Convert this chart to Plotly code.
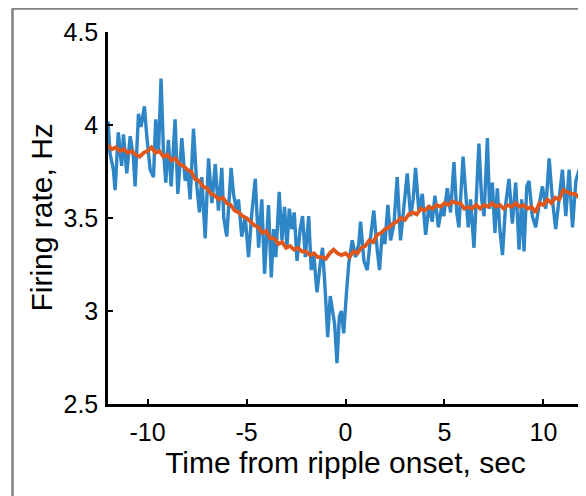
import plotly.graph_objects as go

# Raw (noisy) firing rate trace
t_raw = [-12.0, -11.9, -11.73, -11.64, -11.48, -11.31, -11.22, -11.05, -10.88, -10.72,
         -10.63, -10.46, -10.33, -10.16, -10.04, -9.87, -9.70, -9.59, -9.45, -9.32,
         -9.20, -9.08, -8.95, -8.81, -8.61, -8.47, -8.27, -8.10, -7.97, -7.85,
         -7.68, -7.51, -7.38, -7.26, -7.09, -6.92, -6.75, -6.58, -6.42, -6.25,
         -6.15, -6.0, -5.85, -5.78, -5.66, -5.49, -5.41, -5.24, -5.07, -4.90,
         -4.73, -4.56, -4.39, -4.23, -4.09, -3.97, -3.89, -3.75, -3.63, -3.52,
         -3.35, -3.21, -3.08, -2.96, -2.84, -2.71, -2.59, -2.45, -2.29, -2.17,
         -2.03, -1.86, -1.73, -1.61, -1.44, -1.27, -1.16, -1.02, -0.90, -0.77,
         -0.65, -0.55, -0.43, -0.31, -0.21, -0.09, 0.05, 0.17, 0.34, 0.51,
         0.67, 0.76, 0.93, 1.10, 1.26, 1.43, 1.60, 1.72, 1.86, 1.99,
         2.14, 2.28, 2.45, 2.61, 2.78, 2.95, 3.12, 3.29, 3.42, 3.54,
         3.71, 3.88, 4.05, 4.22, 4.38, 4.52, 4.69, 4.86, 4.97, 5.14,
         5.31, 5.48, 5.62, 5.73, 5.94, 6.2, 6.32, 6.49, 6.61, 6.74,
         6.88, 7.0, 7.17, 7.28, 7.42, 7.55, 7.67, 7.79, 7.93, 8.09,
         8.26, 8.43, 8.60, 8.77, 8.90, 9.02, 9.16, 9.27, 9.44, 9.61,
         9.78, 9.95, 10.12, 10.29, 10.45, 10.62, 10.79, 10.96, 11.13, 11.30,
         11.47, 11.64, 11.80, 11.97, 12.0]
rate_raw = [4.02, 3.85, 3.76, 3.65, 3.96, 3.78, 3.95, 3.74, 3.94, 3.83,
            3.67, 4.06, 3.99, 4.10, 3.94, 3.76, 3.72, 4.03, 3.85, 4.25,
            3.87, 3.69, 3.92, 3.67, 4.03, 3.63, 3.93, 3.70, 3.76, 3.60,
            3.98, 3.67, 3.53, 3.72, 3.39, 3.82, 3.58, 3.79, 3.54, 3.77,
            3.50, 3.40, 3.65, 3.77, 3.63, 3.53, 3.60, 3.40, 3.51, 3.29,
            3.53, 3.71, 3.34, 3.60, 3.20, 3.44, 3.57, 3.18, 3.44, 3.29,
            3.64, 3.38, 3.56, 3.34, 3.55, 3.44, 3.53, 3.27, 3.44, 3.51,
            3.29, 3.51, 3.22, 3.31, 3.10, 3.26, 3.34, 3.10, 2.86, 3.08,
            3.00, 2.93, 2.72, 2.97, 3.00, 2.88, 3.10, 3.26, 3.38, 3.29,
            3.36, 3.48, 3.27, 3.22, 3.39, 3.54, 3.33, 3.22, 3.43, 3.36,
            3.57, 3.38, 3.47, 3.72, 3.38, 3.56, 3.74, 3.51, 3.60, 3.77,
            3.53, 3.63, 3.41, 3.57, 3.48, 3.62, 3.45, 3.56, 3.51, 3.66,
            3.53, 3.80, 3.53, 3.45, 3.83, 3.45, 3.60, 3.34, 3.60, 3.90,
            3.60, 3.51, 3.93, 3.55, 3.69, 3.42, 3.66, 3.45, 3.30, 3.57,
            3.71, 3.47, 3.69, 3.33, 3.60, 3.32, 3.67, 3.70, 3.51, 3.45,
            3.57, 3.67, 3.55, 3.82, 3.60, 3.44, 3.60, 3.76, 3.51, 3.76,
            3.45, 3.70, 3.76, 3.51, 3.60]

# Smoothed trace (small jitter visible in the picture)
t_smooth = [-12.0, -11.8, -11.6, -11.4, -11.2, -11.0, -10.8, -10.6, -10.4, -10.2,
            -10.0, -9.8, -9.6, -9.4, -9.2, -9.0, -8.8, -8.6, -8.4, -8.2,
            -8.0, -7.8, -7.6, -7.4, -7.2, -7.0, -6.8, -6.6, -6.4, -6.2,
            -6.0, -5.8, -5.6, -5.4, -5.2, -5.0, -4.8, -4.6, -4.4, -4.2,
            -4.0, -3.8, -3.6, -3.4, -3.2, -3.0, -2.8, -2.6, -2.4, -2.2,
            -2.0, -1.8, -1.6, -1.4, -1.2, -1.0, -0.8, -0.6, -0.4, -0.2,
            0.0, 0.2, 0.4, 0.6, 0.8, 1.0, 1.2, 1.4, 1.6, 1.8,
            2.0, 2.2, 2.4, 2.6, 2.8, 3.0, 3.2, 3.4, 3.6, 3.8,
            4.0, 4.2, 4.4, 4.6, 4.8, 5.0, 5.2, 5.4, 5.6, 5.8,
            6.0, 6.2, 6.4, 6.6, 6.8, 7.0, 7.2, 7.4, 7.6, 7.8,
            8.0, 8.2, 8.4, 8.6, 8.8, 9.0, 9.2, 9.4, 9.6, 9.8,
            10.0, 10.2, 10.4, 10.6, 10.8, 11.0, 11.2, 11.4, 11.6, 11.8, 12.0]
rate_smooth = [3.89, 3.87, 3.88, 3.86, 3.87, 3.85, 3.86, 3.84, 3.83, 3.85,
               3.86, 3.88, 3.85, 3.86, 3.83, 3.84, 3.81, 3.82, 3.79, 3.78,
               3.76, 3.75, 3.71, 3.70, 3.67, 3.66, 3.63, 3.62, 3.60, 3.61,
               3.58, 3.57, 3.54, 3.53, 3.51, 3.50, 3.48, 3.46, 3.45, 3.42,
               3.43, 3.39, 3.39, 3.36, 3.37, 3.34, 3.35, 3.33, 3.34, 3.32,
               3.32, 3.30, 3.31, 3.29, 3.29, 3.28, 3.31, 3.33, 3.31, 3.30,
               3.31, 3.29, 3.32, 3.31, 3.34, 3.35, 3.38, 3.37, 3.41, 3.42,
               3.44, 3.45, 3.47, 3.48, 3.50, 3.49, 3.52, 3.53, 3.52, 3.55,
               3.54, 3.56, 3.55, 3.57, 3.56, 3.58, 3.57, 3.59, 3.58, 3.58,
               3.55, 3.56, 3.55, 3.57, 3.55, 3.57, 3.56, 3.58, 3.56, 3.57,
               3.55, 3.57, 3.56, 3.58, 3.56, 3.57, 3.55, 3.56, 3.53, 3.58,
               3.57, 3.60, 3.58, 3.61, 3.60, 3.65, 3.64, 3.63, 3.63, 3.61, 3.60]

x_ticks = [-10, -5, 0, 5, 10]
y_ticks = [2.5, 3, 3.5, 4, 4.5]
y_ticklabels = ["2.5", "3", "3.5", "4", "4.5"]
x_title = "Time from ripple onset, sec"
y_title = "Firing rate, Hz"

fig = go.Figure()
fig.add_trace(go.Scatter(x=t_raw, y=rate_raw, mode="lines",
                         line=dict(color="#2e86c6", width=3.4), showlegend=False))
fig.add_trace(go.Scatter(x=t_smooth, y=rate_smooth, mode="lines",
                         line=dict(color="#e0561b", width=3.8), showlegend=False))

fam = "Liberation Sans, Arial, sans-serif"
tick_font = dict(family=fam, size=25, color="black")
title_font = dict(family=fam, size=30, color="black")
axis_common = dict(showline=True, linecolor="black", linewidth=2.5, ticks="inside",
                   ticklen=5, tickwidth=2, tickcolor="black", showgrid=False,
                   zeroline=False, mirror=False, tickfont=tick_font)

fig.update_xaxes(range=[-12, 12], tickvals=x_ticks, ticktext=[str(v) for v in x_ticks],
                 title=dict(text=x_title, font=title_font, standoff=5),
                 ticklabelstandoff=4, **axis_common)
fig.update_yaxes(range=[2.5, 4.5], tickvals=y_ticks, ticktext=y_ticklabels,
                 ticklabelstandoff=2, **axis_common)

# y-axis title placed close to the tick labels, as in the picture
fig.add_annotation(text=y_title, textangle=-90, xref="paper", yref="paper",
                   x=-0.142, y=0.5, xanchor="center", yanchor="middle",
                   showarrow=False, font=title_font)

# outer gray frame (left and top edges visible)
fx = -95.5 / 475
fy = 1 + 23.5 / 372
fig.add_shape(type="line", xref="paper", yref="paper", x0=fx, x1=fx, y0=fy, y1=-0.3,
              line=dict(color="#808080", width=2.5))
fig.add_shape(type="line", xref="paper", yref="paper", x0=fx, x1=1.05, y0=fy, y1=fy,
              line=dict(color="#808080", width=2.5))

fig.update_layout(width=578, height=488, margin=dict(l=100, r=3, t=24, b=92),
                  plot_bgcolor="white", paper_bgcolor="white", font=tick_font)
fig.write_html("out.html")
